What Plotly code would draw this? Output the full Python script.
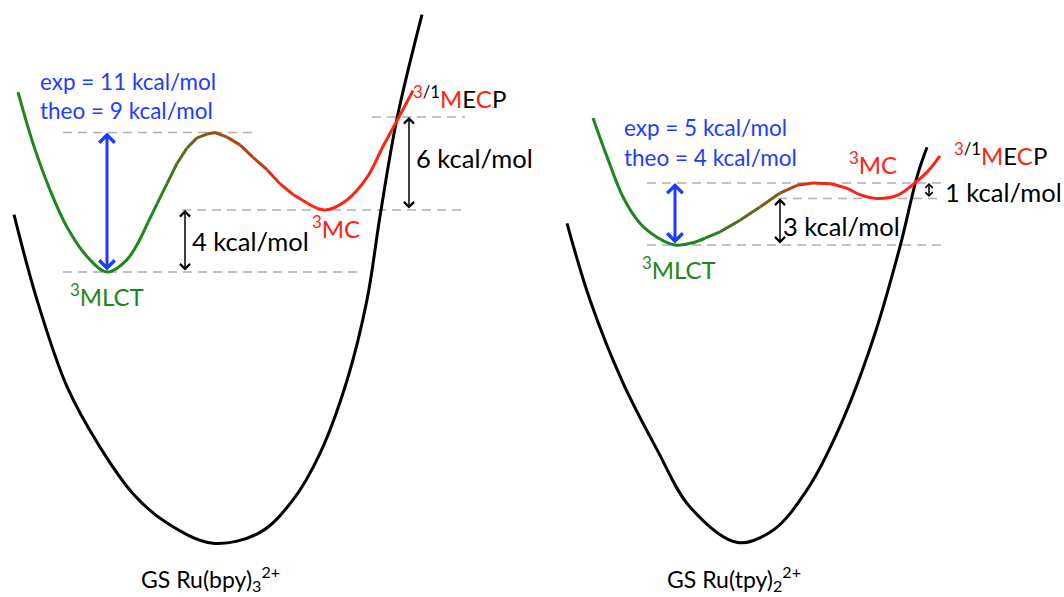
import plotly.graph_objects as go

# ---------------------------------------------------------------------------
# Potential energy curves (reaction coordinate in arbitrary units,
# energy in kcal/mol relative to the 3MLCT minimum of each complex)
# ---------------------------------------------------------------------------

# Ru(bpy)3 2+
bpy_gs_x = [14, 37, 67, 100, 133, 167, 213, 260, 293, 320, 347, 367, 380, 397, 422]
bpy_gs_e = [3.7, -1.8, -7.4, -11.3, -14.3, -16.2, -17.5, -16.8, -14.7, -11.7, -7.0, -1.8, 3.6, 9.9, 16.6]

bpy_ex_x = [18, 33, 50, 67, 87, 107, 127, 148, 157, 167, 177, 187, 197, 207, 215,
            227, 240, 253, 267, 280, 293, 307, 325, 347, 367, 383, 399, 413]
bpy_ex_e = [11.6, 8.3, 5.3, 2.9, 1.0, 0.0, 0.8, 3.2, 4.4, 5.7, 7.0, 8.0, 8.65, 8.9, 9.0,
            8.7, 8.2, 7.4, 6.6, 5.7, 5.0, 4.45, 4.0, 4.65, 6.1, 8.1, 10.0, 11.7]

bpy_barrier_theo = 9   # 3MLCT -> TS
bpy_barrier_exp = 11
bpy_mc_gap = 4         # 3MLCT -> 3MC
bpy_mecp_gap = 6       # 3MC -> 3/1MECP

# Ru(tpy)2 2+
tpy_gs_x = [567, 590, 623, 657, 690, 738, 773, 807, 840, 873, 900, 917, 927]
tpy_gs_e = [1.4, -3.55, -8.9, -13.2, -16.9, -19.2, -18.4, -15.8, -11.7, -6.1, -0.1, 4.4, 6.3]

tpy_ex_x = [593, 607, 623, 640, 657, 675, 693, 705, 720, 740, 760, 780, 797, 813,
            830, 847, 860, 877, 897, 913, 927, 940]
tpy_ex_e = [8.2, 5.7, 3.1, 1.4, 0.5, 0.0, 0.15, 0.45, 0.85, 1.6, 2.45, 3.35, 3.85, 4.0,
            3.95, 3.65, 3.25, 3.0, 3.2, 3.9, 4.7, 5.75]

tpy_barrier_theo = 4
tpy_barrier_exp = 5
tpy_mc_gap = 3
tpy_mecp_gap = 1

# ---------------------------------------------------------------------------
# Styling
# ---------------------------------------------------------------------------
W, H = 1064, 597
PX_PER_KCAL = 15.5
BPY_ZERO_PX = 272      # screen row of the 3MLCT level, left panel
TPY_ZERO_PX = 245      # screen row of the 3MLCT level, right panel

GREEN = (28, 136, 28)
BROWN = (140, 84, 20)
RED = (255, 35, 20)
BLUE = "rgb(30,60,255)"
DASH_GREY = "rgb(175,175,175)"
FONT = "Lato"
FS_BLUE = 22.5
FS_GAP = 25.5
FS_STATE = 24
FS_NAME = 23

def rgb(c):
    return "rgb(%d,%d,%d)" % tuple(int(round(v)) for v in c)

def mix(a, b, t):
    return tuple(a[i] + (b[i] - a[i]) * t for i in range(3))

def ramp(x, x_green, x_brown, x_red):
    if x <= x_green:
        return GREEN
    if x >= x_red:
        return RED
    if x <= x_brown:
        return mix(GREEN, BROWN, (x - x_green) / (x_brown - x_green))
    return mix(BROWN, RED, (x - x_brown) / (x_red - x_brown))

def erange(zero_px):
    return [(zero_px - H) / PX_PER_KCAL, zero_px / PX_PER_KCAL]

fig = go.Figure()

def curve(xs, es, yaxis, color, width=3):
    fig.add_trace(go.Scatter(x=xs, y=es, yaxis=yaxis, mode="lines",
                             line=dict(color=color, width=width, shape="spline"),
                             hoverinfo="skip", showlegend=False))

def excited_curve(xs, es, yaxis, x_green, x_brown, x_red):
    i0 = max(i for i, x in enumerate(xs) if x <= x_green)
    i1 = min(i for i, x in enumerate(xs) if x >= x_red)
    curve(xs[:i0 + 1], es[:i0 + 1], yaxis, rgb(GREEN))
    for i in range(i0, i1):
        xm = 0.5 * (xs[i] + xs[i + 1])
        fig.add_trace(go.Scatter(x=xs[i:i + 2], y=es[i:i + 2], yaxis=yaxis, mode="lines",
                                 line=dict(color=rgb(ramp(xm, x_green, x_brown, x_red)), width=3),
                                 hoverinfo="skip", showlegend=False))
    curve(xs[i1:], es[i1:], yaxis, rgb(RED))

def level(e, x0, x1, yaxis):
    fig.add_trace(go.Scatter(x=[x0, x1], y=[e, e], yaxis=yaxis, mode="lines",
                             line=dict(color=DASH_GREY, width=1.5, dash="9px,6px"),
                             hoverinfo="skip", showlegend=False))

annotations = []

def arrow(x, e0, e1, yref, color, width, size):
    annotations.append(dict(x=x, y=e1, ax=x, ay=e0, xref="x", yref=yref, axref="x", ayref=yref,
                            text="", showarrow=True, arrowhead=4, startarrowhead=4,
                            arrowside="end+start", arrowwidth=width, arrowsize=size,
                            startarrowsize=size, arrowcolor=color, standoff=0, startstandoff=0))

def label(x, e, text, yref, size, color="black", xanchor="left"):
    annotations.append(dict(x=x, y=e, xref="x", yref=yref, text=text, showarrow=False,
                            xanchor=xanchor, yanchor="middle",
                            font=dict(family=FONT, size=size, color=color)))

def red(s):
    return "<span style='color:%s'>%s</span>" % (rgb(RED), s)

mecp_text = ("<sup>%s/1</sup>%sE%sP" % (red("3"), red("M"), red("C")))

# ---- left panel: Ru(bpy)3 2+ --------------------------------------------
bpy_mc = bpy_mc_gap
bpy_mecp = bpy_mc_gap + bpy_mecp_gap
level(bpy_barrier_theo, 63, 253, "y")
level(bpy_mc, 182, 467, "y")
level(0, 63, 358, "y")
level(bpy_mecp, 372, 465, "y")

curve(bpy_gs_x, bpy_gs_e, "y", "black")
excited_curve(bpy_ex_x, bpy_ex_e, "y", 150, 212, 305)

arrow(107, 0, bpy_barrier_theo, "y", BLUE, 3, 1.0)
arrow(185, 0, bpy_mc, "y", "black", 1.5, 1.3)
arrow(409, bpy_mc, bpy_mecp, "y", "black", 1.5, 1.3)

label(38, 12.3, "exp = %d kcal/mol" % bpy_barrier_exp, "y", FS_BLUE, BLUE)
label(38, 10.45, "theo = %d kcal/mol" % bpy_barrier_theo, "y", FS_BLUE, BLUE)
label(190, bpy_mc / 2, "%d kcal/mol" % bpy_mc_gap, "y", FS_GAP)
label(310, 2.9, "<sup>3</sup>MC", "y", FS_STATE, rgb(RED))
label(68, -1.5, "<sup>3</sup>MLCT", "y", FS_STATE, rgb(GREEN))
label(414, bpy_mc + bpy_mecp_gap / 2 + 0.35, "%d kcal/mol" % bpy_mecp_gap, "y", FS_GAP)
label(411, 11.3, mecp_text, "y", FS_STATE)

# ---- right panel: Ru(tpy)2 2+ -------------------------------------------
tpy_mc = tpy_mc_gap
tpy_mecp = tpy_mc_gap + tpy_mecp_gap
level(tpy_barrier_theo, 647, 942, "y2")
level(tpy_mc, 778, 942, "y2")
level(0, 647, 942, "y2")

curve(tpy_gs_x, tpy_gs_e, "y2", "black")
excited_curve(tpy_ex_x, tpy_ex_e, "y2", 705, 775, 830)

arrow(675, 0, tpy_barrier_theo, "y2", BLUE, 3, 1.0)
arrow(780, 0, tpy_mc, "y2", "black", 1.5, 1.3)
arrow(929, tpy_mc, tpy_mecp, "y2", "black", 1.5, 0.95)

label(622, 7.55, "exp = %d kcal/mol" % tpy_barrier_exp, "y2", FS_BLUE, BLUE)
label(622, 5.65, "theo = %d kcal/mol" % tpy_barrier_theo, "y2", FS_BLUE, BLUE)
label(847, 5.3, "<sup>3</sup>MC", "y2", FS_STATE, rgb(RED))
label(952, 5.85, mecp_text, "y2", FS_STATE)
label(943, tpy_mc + tpy_mecp_gap / 2 - 0.1, "%d kcal/mol" % tpy_mecp_gap, "y2", FS_GAP)
label(781, 1.25, "%d kcal/mol" % tpy_mc_gap, "y2", FS_GAP)
label(640, -1.5, "<sup>3</sup>MLCT", "y2", FS_STATE, rgb(GREEN))

# ---- complex names -------------------------------------------------------
for xc, name in [(210, "GS Ru(bpy)<sub>3</sub><sup>2+</sup>"),
                 (734, "GS Ru(tpy)<sub>2</sub><sup>2+</sup>")]:
    annotations.append(dict(x=xc, y=(H - 578) / H, xref="x", yref="paper", text=name,
                            showarrow=False, xanchor="center", yanchor="middle",
                            font=dict(family=FONT, size=FS_NAME, color="black")))

fig.update_layout(
    width=W, height=H,
    margin=dict(l=0, r=0, t=0, b=0),
    paper_bgcolor="white", plot_bgcolor="white",
    showlegend=False,
    xaxis=dict(range=[0, W], visible=False, fixedrange=True),
    yaxis=dict(range=erange(BPY_ZERO_PX), visible=False, fixedrange=True),
    yaxis2=dict(range=erange(TPY_ZERO_PX), visible=False, fixedrange=True,
                overlaying="y", anchor="x"),
    annotations=annotations,
)

fig.write_html("out.html", config={"displayModeBar": False})
